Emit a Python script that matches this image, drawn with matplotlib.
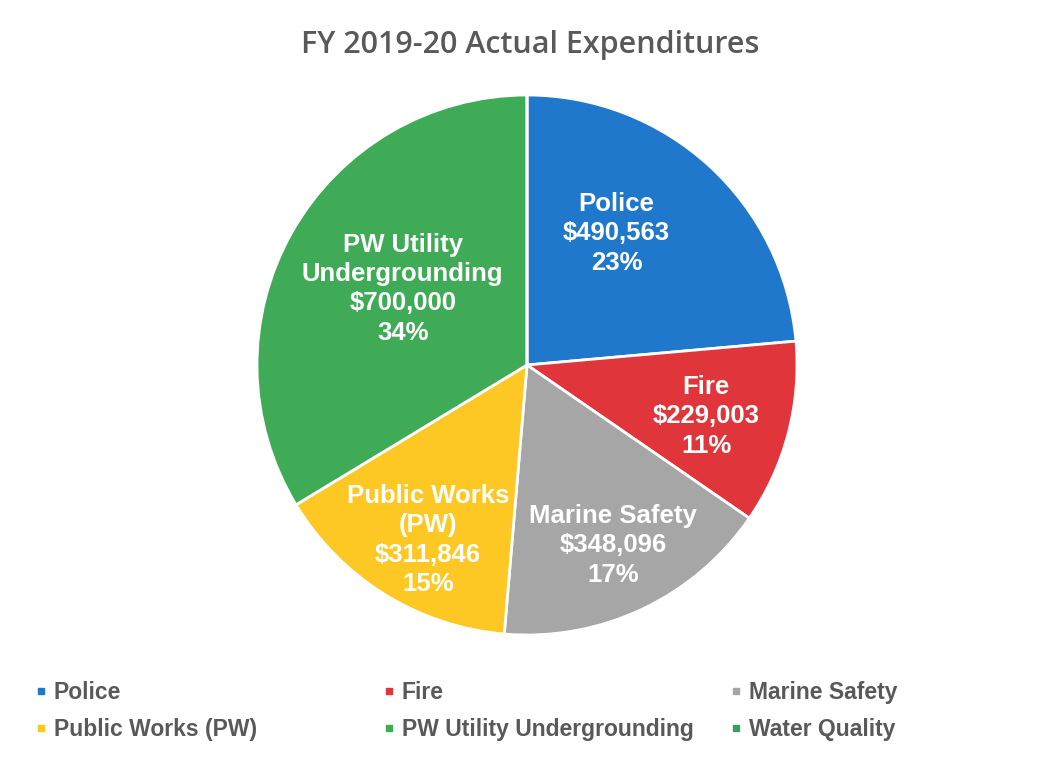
import numpy as np
import matplotlib.pyplot as plt
from matplotlib.lines import Line2D

categories = ["Police", "Fire", "Marine Safety", "Public Works (PW)",
              "PW Utility Undergrounding", "Water Quality"]
amounts = [490563, 229003, 348096, 311846, 700000, 0]
pct_labels = ["23%", "11%", "17%", "15%", "34%", ""]
slice_titles = ["Police", "Fire", "Marine Safety", "Public Works\n(PW)",
                "PW Utility\nUndergrounding", "Water Quality"]
colors = ["#1f78cc", "#e0353b", "#a6a6a6", "#fdc823", "#3fab57", "#3a9f5e"]

plt.rcParams["font.family"] = ["Liberation Sans", "DejaVu Sans"]

fig = plt.figure(figsize=(10.61, 7.8), dpi=100)
ax = fig.add_axes([257 / 1061, 1 - 635 / 780, 540 / 1061, 540 / 780])

wedges, _ = ax.pie(amounts, colors=colors, startangle=90, counterclock=False,
                   radius=1.0, wedgeprops=dict(edgecolor="white", linewidth=2))
ax.set_xlim(-1.0, 1.0)
ax.set_ylim(-1.0, 1.0)

# label placement: radius (fraction of pie radius) and angle nudge in degrees
label_r = [0.59, 0.69, 0.74, 0.745, 0.54]
label_nudge = [8.2, -1.2, 0.2, 2.3, -2.1]
for i, w in enumerate(wedges[:5]):
    ang = np.deg2rad((w.theta1 + w.theta2) / 2 + label_nudge[i])
    txt = f"{slice_titles[i]}\n${amounts[i]:,}\n{pct_labels[i]}"
    ax.text(label_r[i] * np.cos(ang), label_r[i] * np.sin(ang), txt,
            ha="center", va="center", color="white", fontsize=18.5,
            fontweight="bold", linespacing=1.28)

fig.text(0.5, 1 - 45 / 780, "FY 2019-20 Actual Expenditures",
         ha="center", va="center", fontsize=22, color="#595959",
         family=["Open Sans", "DejaVu Sans"], fontweight="semibold")

# legend in three columns
col_x = [9 / 1061, 357 / 1061, 704 / 1061]
for c in range(3):
    handles = []
    for idx in (c, c + 3):
        handles.append(Line2D([], [], marker="s", linestyle="none",
                              markersize=5, color=colors[idx],
                              label=categories[idx]))
    leg = fig.legend(handles=handles, loc="upper left",
                     bbox_to_anchor=(col_x[c], 1 - 660 / 780),
                     frameon=False, fontsize=16.5, handletextpad=0.05,
                     labelspacing=0.62, handlelength=1.0)
    for t in leg.get_texts():
        t.set_color("#595959")
        t.set_fontweight("bold")

fig.savefig("out.png", dpi=100, facecolor="white")
